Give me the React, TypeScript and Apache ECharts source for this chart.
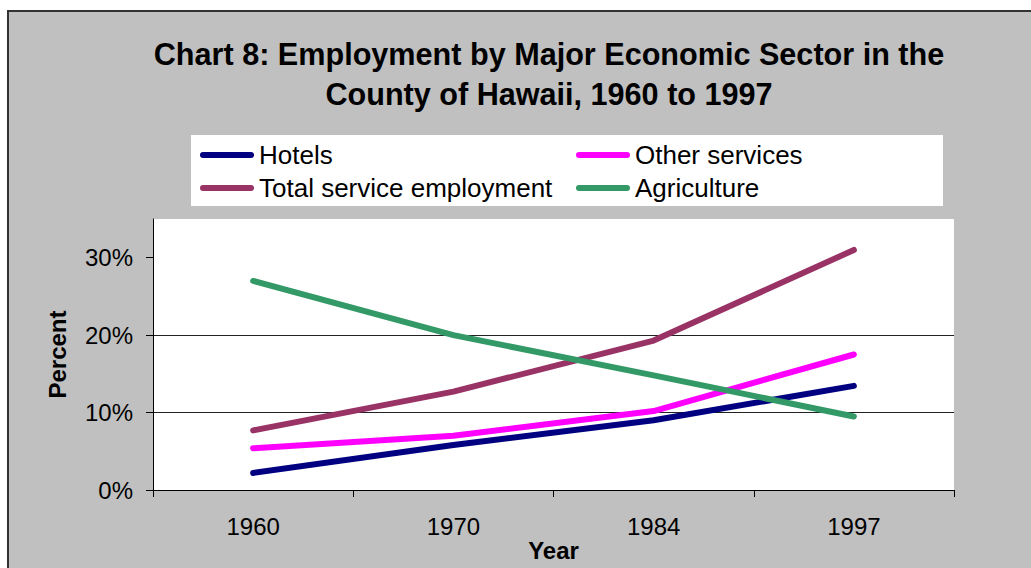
import React, { useEffect, useRef } from 'react';
import * as echarts from 'echarts';

const years = ['1960', '1970', '1984', '1997'];
const hotels = [2.2, 5.8, 9.0, 13.45];
const otherServices = [5.4, 7.0, 10.2, 17.5];
const totalService = [7.7, 12.7, 19.3, 31.0];
const agriculture = [27.0, 20.0, 14.8, 9.5];
const yTicks = [0, 10, 20, 30];
const titleText = 'Chart 8: Employment by Major Economic Sector in the\nCounty of Hawaii, 1960 to 1997';

const FONT = '"Liberation Sans", Arial, sans-serif';

export default function App() {
  const ref = useRef<HTMLDivElement>(null);
  useEffect(() => {
    if (!ref.current) return;
    const chart = echarts.init(ref.current, undefined, { renderer: 'svg' });
    const lineSeries = (name: string, data: number[], color: string) => ({
      name,
      type: 'line',
      data,
      symbol: 'none',
      z: 3,
      lineStyle: { color, width: 6, cap: 'round', join: 'round' },
      itemStyle: { color },
    });
    const legendIcon = 'path://M3,0 H51 A3,3 0 0 1 51,6 H3 A3,3 0 0 1 3,0 Z';
    const legendCommon = {
      orient: 'vertical',
      top: 142,
      itemWidth: 54,
      itemHeight: 6,
      itemGap: 7,
      icon: legendIcon,
      padding: 0,
      selectedMode: false,
      textStyle: { fontFamily: FONT, fontSize: 26, color: '#000', padding: [0, 0, 0, 0] },
    };
    chart.setOption({
      animation: false,
      backgroundColor: 'transparent',
      textStyle: { fontFamily: FONT },
      title: {
        text: titleText,
        left: 549,
        top: 34,
        textAlign: 'center',
        padding: 0,
        textStyle: { fontFamily: FONT, fontSize: 30.6, fontWeight: 'bold', color: '#000', lineHeight: 40 },
      },
      graphic: [
        {
          type: 'rect',
          shape: { x: 191, y: 135, width: 752, height: 71 },
          style: { fill: '#ffffff' },
          z: 0,
          silent: true,
        },
      ],
      legend: [
        { ...legendCommon, left: 200, data: ['Hotels', 'Total service employment'] },
        { ...legendCommon, left: 576, data: ['Other services', 'Agriculture'] },
      ],
      grid: {
        left: 153,
        top: 219,
        width: 801,
        height: 271,
        show: true,
        backgroundColor: '#ffffff',
        borderWidth: 0,
      },
      xAxis: {
        type: 'category',
        data: years,
        boundaryGap: true,
        axisLine: { show: true, lineStyle: { color: '#000', width: 1 } },
        axisTick: { show: true, length: 7, lineStyle: { color: '#000' } },
        axisLabel: { fontFamily: FONT, fontSize: 24, color: '#000', margin: 24 },
        splitLine: { show: false },
        name: 'Year',
        nameLocation: 'middle',
        nameGap: 45,
        nameTextStyle: { fontFamily: FONT, fontSize: 24, fontWeight: 'bold', color: '#000' },
      },
      yAxis: {
        type: 'value',
        min: 0,
        max: 35,
        interval: 10,
        axisLine: { show: true, lineStyle: { color: '#000', width: 1 } },
        axisTick: { show: true, length: 7, customValues: yTicks, lineStyle: { color: '#000' } },
        axisLabel: {
          fontFamily: FONT,
          fontSize: 24,
          color: '#000',
          margin: 20,
          customValues: yTicks,
          formatter: '{value}%',
        },
        splitLine: { show: true, showMinLine: false, showMaxLine: false, lineStyle: { color: '#222', width: 1 } },
        name: 'Percent',
        nameLocation: 'middle',
        nameGap: 84,
        nameTextStyle: { fontFamily: FONT, fontSize: 24, fontWeight: 'bold', color: '#000' },
      },
      series: [
        lineSeries('Hotels', hotels, '#000080'),
        lineSeries('Other services', otherServices, '#FF00FF'),
        lineSeries('Total service employment', totalService, '#993366'),
        lineSeries('Agriculture', agriculture, '#339966'),
      ],
    });
    return () => chart.dispose();
  }, []);

  return (
    <div style={{ position: 'fixed', left: 0, top: 0, width: 1031, height: 568, overflow: 'hidden', background: '#fff' }}>
      <div
        style={{
          position: 'absolute',
          left: 7,
          top: 10,
          width: 1100,
          height: 600,
          boxSizing: 'border-box',
          background: '#c0c0c0',
          borderLeft: '2px solid #333',
          borderTop: '2px solid #333',
        }}
      />
      <div ref={ref} style={{ position: 'absolute', left: 0, top: 0, width: 1031, height: 568 }} />
    </div>
  );
}
